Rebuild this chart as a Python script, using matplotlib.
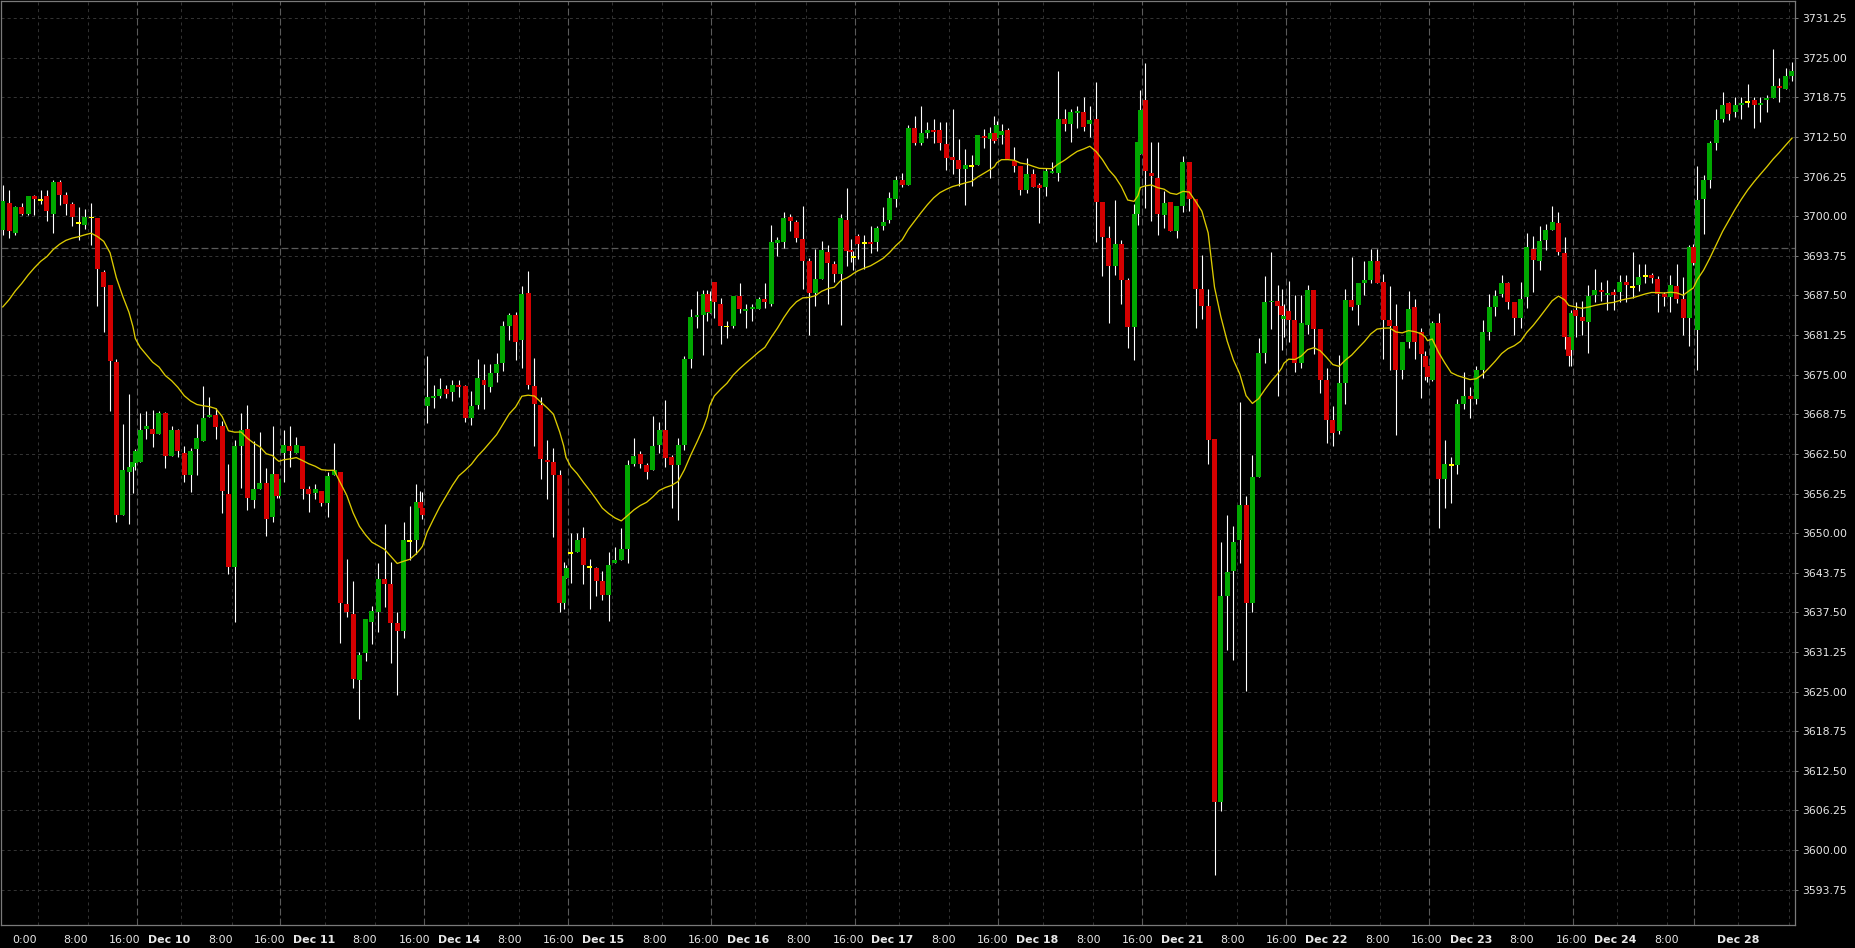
import matplotlib
matplotlib.use("Agg")
import matplotlib.pyplot as plt
import matplotlib.transforms as mtransforms
import numpy as np

plt.rcParams['lines.scale_dashes'] = False

# ---------------- data (hourly ES candles, CT session time) ----------------
day_names = ['Dec 9', 'Dec 10', 'Dec 11', 'Dec 14', 'Dec 15', 'Dec 16',
             'Dec 17', 'Dec 18', 'Dec 21', 'Dec 22', 'Dec 23']
half_day_name = 'Dec 24'
last_day_name = 'Dec 28'

opens = [
    3697.8, 3702.1, 3697.4, 3701.5, 3700.4, 3703.2,
    3702.6, 3703.2, 3700.4, 3705.4, 3703.4, 3702.0, 3698.9, 3698.7, 3699.8, 3699.7, 3691.2, 3689.2, 3677.0, 3652.8, 3659.7, 3660.5, 3661.0, 3661.3, 3666.5, 3666.4, 3665.7, 3669.0, 3662.1, 3666.3,
    3662.6, 3659.2, 3663.3, 3664.6, 3668.3, 3668.6, 3666.9, 3656.2, 3644.6, 3663.8, 3666.4, 3655.2, 3657.0, 3657.9, 3652.6, 3659.4, 3655.8, 3662.7, 3663.8, 3662.7, 3663.8, 3657.0, 3656.3, 3656.7,
    3654.8, 3659.1, 3659.7, 3638.8, 3637.2, 3626.9, 3631.1, 3636.0, 3637.6, 3642.8, 3642.0, 3635.8, 3634.6, 3648.8, 3648.9, 3654.9, 3653.9, 3670.0, 3671.4, 3671.7, 3672.7, 3672.3, 3673.4, 3673.2,
    3668.2, 3670.2, 3674.2, 3673.0, 3675.3, 3676.8, 3682.7, 3684.4, 3680.5, 3687.9, 3673.2, 3670.2, 3661.5, 3661.2, 3659.2, 3638.9, 3642.9, 3646.9, 3647.0, 3649.2, 3644.7, 3644.5, 3642.5, 3640.3,
    3645.3, 3645.8, 3647.5, 3660.9, 3662.5, 3660.8, 3660.0, 3663.9, 3666.3, 3662.0, 3660.8, 3663.9, 3677.5, 3684.1, 3684.4, 3687.7, 3684.8, 3689.6, 3686.2, 3682.6, 3682.7, 3687.4, 3685.0, 3685.4,
    3685.4, 3686.9, 3686.2, 3695.8, 3695.9, 3699.9, 3699.1, 3696.4, 3692.9, 3687.9, 3690.1, 3694.4, 3692.5, 3690.9, 3699.4, 3694.7, 3693.6, 3696.9, 3695.8, 3696.0, 3696.0, 3698.5, 3699.4, 3702.8,
    3705.7, 3704.9, 3713.9, 3711.6, 3713.2, 3713.6, 3713.6, 3711.4, 3709.4, 3708.9, 3707.5, 3707.9, 3708.1, 3712.7, 3712.2, 3713.1, 3712.4, 3712.9, 3713.6, 3708.7, 3707.9, 3704.2, 3706.7, 3704.9,
    3704.6, 3706.9, 3706.9, 3715.4, 3714.5, 3716.3, 3716.5, 3714.5, 3715.4, 3702.2, 3696.5, 3692.2, 3695.6, 3690.0, 3682.6, 3700.4, 3709.9, 3718.4, 3706.9, 3706.1, 3700.2, 3702.2, 3697.6, 3701.7,
    3708.5, 3702.7, 3688.6, 3685.9, 3664.8, 3607.6, 3640.1, 3644.0, 3648.9, 3654.4, 3639.0, 3658.8, 3678.5, 3686.4, 3686.6, 3685.9, 3683.8, 3685.0, 3683.6, 3676.9, 3682.9, 3688.4, 3682.2, 3674.2,
    3667.8, 3666.1, 3673.7, 3686.8, 3686.0, 3689.5, 3690.0, 3692.9, 3689.6, 3683.6, 3682.7, 3675.8, 3680.2, 3685.7, 3681.7, 3678.0, 3676.3, 3674.2, 3683.1, 3658.6, 3660.8, 3660.8, 3670.4, 3671.6,
    3671.2, 3675.7, 3681.7, 3685.7, 3687.8, 3689.5, 3686.5, 3684.0, 3687.2, 3694.8, 3692.9, 3696.2, 3697.9, 3698.9, 3694.2, 3681.0, 3678.9, 3685.2, 3684.1, 3683.3, 3687.5, 3688.3, 3687.6, 3688.0,
    3688.0, 3689.6, 3688.8, 3689.1, 3690.6, 3690.7, 3690.1, 3687.7, 3687.2, 3689.0, 3687.0, 3684.0, 3695.2, 3682.0, 3702.8, 3705.7, 3711.5, 3715.3, 3717.8, 3716.5,
    3717.6, 3718.1, 3718.3, 3717.6, 3718.3, 3718.7, 3720.6, 3720.1, 3722.2,
]
highs = [
    3704.9, 3704.1, 3701.6, 3702.1, 3703.2, 3703.4,
    3704.1, 3704.1, 3705.7, 3705.7, 3703.8, 3702.2, 3701.5, 3701.2, 3702.1, 3699.8, 3691.6, 3689.2, 3677.5, 3667.2, 3672.0, 3662.5, 3663.3, 3669.0, 3669.3, 3669.4, 3669.3, 3669.1, 3666.9, 3666.5,
    3663.8, 3663.5, 3667.2, 3673.2, 3671.5, 3669.7, 3667.7, 3660.9, 3664.7, 3669.0, 3670.2, 3664.5, 3666.0, 3660.3, 3666.9, 3659.4, 3658.6, 3666.3, 3666.9, 3665.2, 3663.8, 3657.5, 3657.8, 3656.7,
    3659.6, 3664.2, 3659.7, 3645.9, 3642.5, 3631.3, 3636.5, 3638.5, 3645.3, 3651.5, 3645.5, 3637.6, 3651.8, 3654.3, 3657.8, 3656.7, 3656.5, 3678.0, 3673.4, 3674.5, 3673.4, 3674.2, 3674.2, 3673.4,
    3672.4, 3677.5, 3676.7, 3676.7, 3678.4, 3683.5, 3684.8, 3684.9, 3689.0, 3691.4, 3677.6, 3671.5, 3664.7, 3663.4, 3660.0, 3645.5, 3645.0, 3650.0, 3650.0, 3651.0, 3645.9, 3644.7, 3644.0, 3647.0,
    3647.8, 3650.8, 3661.5, 3665.0, 3663.0, 3661.0, 3668.5, 3667.6, 3671.0, 3662.3, 3665.0, 3678.0, 3685.4, 3688.2, 3688.3, 3688.4, 3688.2, 3689.6, 3687.1, 3683.4, 3687.4, 3689.4, 3686.1, 3686.2,
    3687.3, 3689.5, 3698.6, 3696.7, 3700.6, 3700.4, 3699.4, 3701.6, 3693.4, 3694.8, 3696.1, 3695.5, 3692.9, 3700.4, 3704.5, 3696.4, 3694.6, 3697.2, 3697.0, 3698.5, 3698.5, 3701.5, 3703.8, 3706.3,
    3706.8, 3714.4, 3715.8, 3717.4, 3714.9, 3715.4, 3714.8, 3714.9, 3716.9, 3712.2, 3710.6, 3709.7, 3712.8, 3713.7, 3714.1, 3715.8, 3715.1, 3714.6, 3713.9, 3710.9, 3707.9, 3709.2, 3707.5, 3705.2,
    3707.6, 3708.6, 3722.9, 3716.9, 3716.9, 3717.4, 3718.8, 3717.4, 3721.2, 3702.2, 3698.5, 3702.5, 3696.2, 3690.2, 3702.0, 3712.2, 3720.0, 3724.2, 3711.7, 3711.7, 3704.0, 3702.2, 3701.7, 3709.5,
    3708.5, 3702.7, 3693.9, 3688.6, 3664.8, 3648.6, 3652.8, 3651.1, 3670.7, 3655.8, 3662.3, 3680.8, 3690.6, 3694.3, 3689.1, 3688.6, 3686.1, 3689.8, 3687.5, 3687.5, 3689.1, 3688.4, 3682.2, 3676.0,
    3670.1, 3678.1, 3688.6, 3693.5, 3689.4, 3692.9, 3694.8, 3694.8, 3690.9, 3689.0, 3686.2, 3680.2, 3688.2, 3687.0, 3682.4, 3678.8, 3676.3, 3683.5, 3684.8, 3664.7, 3662.0, 3671.2, 3675.4, 3673.1,
    3676.3, 3683.6, 3687.7, 3688.4, 3690.7, 3689.7, 3686.5, 3689.6, 3697.4, 3696.9, 3698.5, 3698.8, 3701.6, 3700.6, 3696.7, 3681.5, 3685.2, 3686.5, 3686.6, 3689.1, 3691.7, 3689.6, 3690.0, 3688.6,
    3690.8, 3690.7, 3694.3, 3692.5, 3692.5, 3691.0, 3690.6, 3688.1, 3690.7, 3692.5, 3690.4, 3695.5, 3695.7, 3707.9, 3706.5, 3711.9, 3716.9, 3719.6, 3718.1, 3718.8,
    3718.8, 3720.8, 3718.8, 3718.8, 3719.1, 3726.4, 3721.8, 3723.4, 3724.3,
]
lows = [
    3697.0, 3696.6, 3697.0, 3700.2, 3700.2, 3700.2,
    3702.0, 3699.3, 3697.3, 3701.8, 3700.2, 3698.5, 3696.3, 3698.0, 3695.5, 3685.9, 3681.8, 3669.3, 3651.7, 3652.8, 3651.4, 3656.4, 3659.9, 3661.3, 3664.9, 3663.6, 3665.7, 3660.2, 3662.1, 3662.0,
    3658.1, 3656.5, 3659.1, 3664.6, 3668.3, 3664.9, 3653.1, 3643.6, 3635.9, 3657.2, 3653.7, 3653.9, 3657.0, 3649.5, 3651.7, 3655.5, 3655.5, 3658.1, 3660.4, 3662.7, 3655.4, 3653.4, 3655.4, 3654.3,
    3652.5, 3659.1, 3632.7, 3636.7, 3625.6, 3620.7, 3629.9, 3632.5, 3634.4, 3638.4, 3629.5, 3624.4, 3633.4, 3645.8, 3646.7, 3654.0, 3652.2, 3667.4, 3669.8, 3671.4, 3671.4, 3670.9, 3671.5, 3667.5,
    3667.1, 3669.6, 3669.6, 3672.3, 3673.9, 3675.6, 3680.4, 3677.3, 3676.1, 3672.8, 3663.7, 3658.6, 3655.4, 3649.4, 3637.5, 3638.1, 3642.9, 3642.2, 3647.0, 3641.9, 3638.0, 3640.1, 3639.5, 3636.2,
    3645.3, 3645.8, 3645.3, 3660.6, 3660.2, 3658.6, 3660.0, 3662.6, 3660.4, 3653.9, 3652.1, 3663.1, 3676.1, 3682.3, 3678.1, 3683.5, 3684.8, 3684.0, 3679.9, 3680.8, 3682.3, 3684.7, 3682.3, 3683.4,
    3685.4, 3685.6, 3685.9, 3693.7, 3695.0, 3697.7, 3695.9, 3688.5, 3681.2, 3685.9, 3690.1, 3686.1, 3689.7, 3682.9, 3692.1, 3692.8, 3691.5, 3693.3, 3691.7, 3694.2, 3694.6, 3697.8, 3699.0, 3701.4,
    3704.6, 3704.9, 3711.3, 3711.3, 3712.3, 3711.5, 3710.4, 3707.3, 3706.7, 3704.8, 3701.8, 3704.7, 3708.1, 3710.8, 3706.1, 3711.5, 3712.4, 3711.4, 3709.0, 3707.0, 3703.3, 3703.7, 3704.6, 3699.0,
    3703.2, 3706.9, 3705.6, 3713.5, 3711.7, 3713.9, 3713.5, 3712.5, 3696.0, 3690.6, 3683.1, 3690.7, 3686.1, 3679.2, 3677.3, 3698.7, 3709.9, 3701.3, 3699.2, 3697.0, 3698.1, 3697.6, 3696.5, 3700.7,
    3700.8, 3682.3, 3683.8, 3660.9, 3596.0, 3606.1, 3631.6, 3630.0, 3645.3, 3625.1, 3637.5, 3658.8, 3676.8, 3682.2, 3671.7, 3678.9, 3681.0, 3680.2, 3675.4, 3676.0, 3681.4, 3678.3, 3672.1, 3664.3,
    3663.8, 3665.6, 3670.3, 3685.2, 3682.9, 3687.6, 3689.4, 3689.5, 3677.5, 3675.7, 3665.5, 3674.3, 3679.2, 3677.5, 3671.3, 3674.2, 3673.9, 3674.0, 3650.8, 3653.9, 3654.8, 3659.4, 3669.6, 3668.1,
    3670.3, 3674.5, 3680.5, 3684.3, 3687.3, 3685.3, 3681.3, 3682.3, 3685.6, 3688.1, 3691.5, 3694.7, 3697.9, 3693.9, 3679.1, 3676.3, 3676.3, 3680.9, 3681.3, 3678.4, 3686.5, 3686.6, 3685.2, 3685.2,
    3686.5, 3686.5, 3687.1, 3688.2, 3689.5, 3689.5, 3684.9, 3685.9, 3684.9, 3686.3, 3681.3, 3679.6, 3692.3, 3675.8, 3697.2, 3704.4, 3710.4, 3714.8, 3715.2, 3715.6,
    3715.3, 3717.3, 3714.0, 3714.8, 3716.5, 3718.6, 3718.1, 3720.1, 3721.3,
]
closes = [
    3702.4, 3697.7, 3701.5, 3700.4, 3703.2, 3702.8,
    3702.6, 3700.9, 3705.4, 3703.4, 3702.0, 3699.9, 3698.9, 3699.9, 3699.8, 3691.7, 3688.8, 3677.1, 3652.8, 3660.0, 3660.4, 3661.2, 3663.0, 3666.3, 3666.9, 3665.7, 3669.0, 3662.1, 3666.3, 3663.0,
    3659.2, 3663.0, 3665.0, 3668.2, 3668.6, 3666.8, 3656.7, 3644.6, 3663.8, 3666.3, 3655.6, 3656.9, 3657.9, 3652.3, 3659.4, 3655.8, 3658.6, 3663.9, 3663.0, 3663.9, 3657.0, 3656.1, 3656.9, 3654.8,
    3659.0, 3660.0, 3638.9, 3637.6, 3627.0, 3630.8, 3636.5, 3637.7, 3642.8, 3642.0, 3635.8, 3634.6, 3648.9, 3648.8, 3654.9, 3654.0, 3652.8, 3671.5, 3671.6, 3672.8, 3672.0, 3673.4, 3673.1, 3668.2,
    3670.0, 3674.5, 3673.3, 3675.3, 3676.7, 3682.7, 3684.4, 3680.2, 3687.8, 3673.3, 3670.3, 3661.7, 3661.2, 3659.2, 3639.0, 3643.2, 3644.5, 3646.9, 3648.9, 3644.9, 3644.7, 3642.5, 3640.2, 3645.0,
    3645.8, 3647.5, 3660.8, 3662.1, 3660.9, 3659.7, 3663.8, 3666.3, 3661.8, 3660.8, 3663.9, 3677.5, 3684.1, 3684.4, 3687.7, 3684.9, 3686.6, 3686.5, 3682.7, 3682.6, 3687.4, 3685.3, 3685.3, 3685.7,
    3686.9, 3686.5, 3695.9, 3696.2, 3699.7, 3699.2, 3696.5, 3693.0, 3687.9, 3690.1, 3694.7, 3692.6, 3690.9, 3699.7, 3694.5, 3694.3, 3693.6, 3695.7, 3695.8, 3695.7, 3698.2, 3699.1, 3702.9, 3705.7,
    3705.0, 3713.9, 3711.6, 3713.1, 3713.6, 3713.3, 3711.6, 3709.2, 3708.9, 3707.5, 3708.1, 3707.9, 3712.8, 3712.4, 3713.1, 3711.9, 3714.4, 3713.5, 3709.0, 3707.9, 3704.2, 3706.7, 3704.6, 3704.5,
    3707.2, 3707.2, 3715.4, 3714.5, 3716.5, 3716.6, 3714.1, 3715.2, 3702.2, 3696.8, 3692.2, 3695.6, 3690.0, 3682.5, 3700.4, 3711.8, 3716.7, 3707.2, 3706.4, 3700.4, 3702.1, 3697.6, 3701.7, 3708.5,
    3702.7, 3688.6, 3685.9, 3664.7, 3607.6, 3640.1, 3643.9, 3648.6, 3654.4, 3639.0, 3658.8, 3678.5, 3686.4, 3686.6, 3685.9, 3684.4, 3684.3, 3683.6, 3676.9, 3683.2, 3688.4, 3682.2, 3674.2, 3667.8,
    3665.8, 3673.7, 3686.8, 3685.7, 3689.4, 3690.0, 3692.9, 3689.5, 3683.7, 3682.7, 3675.8, 3680.2, 3685.4, 3680.2, 3678.3, 3676.2, 3674.7, 3683.2, 3658.6, 3660.9, 3660.8, 3670.4, 3671.6, 3671.2,
    3675.7, 3681.7, 3685.7, 3687.4, 3689.5, 3686.5, 3684.0, 3687.0, 3695.1, 3693.1, 3696.1, 3697.8, 3699.1, 3694.4, 3681.0, 3678.0, 3684.8, 3684.2, 3683.5, 3687.4, 3688.4, 3688.0, 3687.9, 3687.6,
    3689.6, 3689.2, 3688.8, 3690.4, 3690.6, 3690.2, 3687.8, 3687.2, 3689.2, 3687.0, 3684.0, 3695.2, 3692.7, 3702.5, 3705.7, 3711.6, 3715.2, 3717.6, 3716.2, 3717.6,
    3717.9, 3718.1, 3717.6, 3717.9, 3718.7, 3720.6, 3720.2, 3722.1, 3722.9,
]
ma_start = 3685.7      # moving average value at the first bar
ma_period = 20         # exponential moving average length
ref_level = 3695.0     # horizontal dashed reference line
y_ticks = [3593.75 + 6.25 * k for k in range(23)]

# ---------------- session time axis (trading hours only) ----------------
DAY = 22.75  # trading hours per session day on the compressed axis


def day_bar_centres(T):
    c = [T + h + 0.5 for h in range(15)]          # 0:00 .. 14:00
    c += [T + 15.125, T + 15.5]                    # 15:00-15:15 and 15:30-16:00
    c += [T + 15.75 + k + 0.5 for k in range(7)]  # 17:00 .. 23:00
    return c


xs = [-6 + k + 0.5 for k in range(6)]             # previous evening 18:00..23:00
for d in range(len(day_names)):
    xs += day_bar_centres(d * DAY)
T24 = len(day_names) * DAY
xs += [T24 + h + 0.5 for h in range(12)] + [T24 + 12.125]
xs += [T24 + 12.25 + k + 0.5 for k in range(7)]
T28 = T24 + 19.25
xs += [T28 + h + 0.5 for h in range(9)]

x = np.array(xs)
O = np.array(opens); Hh = np.array(highs); L = np.array(lows); C = np.array(closes)
assert len(x) == len(O) == len(Hh) == len(L) == len(C), (len(x), len(O), len(Hh), len(L), len(C))

ma = [ma_start]
alpha = 2.0 / (ma_period + 1)
for c in C[1:]:
    ma.append(ma[-1] + alpha * (c - ma[-1]))

# ---------------- figure ----------------
W, Hpx = 1855, 948
PXH = 6.311        # pixels per trading hour
X0 = 37.5          # pixel of Dec 9 0:00
PXV = 6.337        # pixels per index point
fig = plt.figure(figsize=(W / 100, Hpx / 100), dpi=100, facecolor='black')
left_px, right_px, top_px, bot_px = 0.5, 1795.0, 0.5, 925.0
ax = fig.add_axes([left_px / W, 1 - bot_px / Hpx, (right_px - left_px) / W, (bot_px - top_px) / Hpx])
ax.set_facecolor('black')
ax.set_xlim((left_px - X0) / PXH, (right_px - X0) / PXH)


def val_at(ypx):
    return 3731.25 - (ypx - 18.25) / PXV


ax.set_ylim(val_at(bot_px), val_at(top_px))

GRID_MINOR = '#333333'
GRID_MAJOR = '#5a5a5a'
for v in y_ticks:
    ax.axhline(v, color=GRID_MINOR, lw=0.75, linestyle=(0, (2.2, 2.2)), zorder=1)
ax.axhline(ref_level, color=GRID_MAJOR, lw=0.9, linestyle=(0, (5.0, 2.2)), zorder=1)

# vertical grid lines + labels
lines = []  # (t, label, bold, major)
for d, name in enumerate(day_names):
    T = d * DAY
    lines.append((T, '0:00' if d == 0 else name, d != 0, False))
    lines.append((T + 8, '8:00', False, False))
    lines.append((T + 15.75, '16:00', False, True))
lines.append((T24, half_day_name, True, False))
lines.append((T24 + 8, '8:00', False, False))
lines.append((T24 + 12.25, None, False, True))
lines.append((T28, last_day_name, True, False))
lines.append((T28 + 8, None, False, False))

trans = mtransforms.blended_transform_factory(ax.transData, ax.transAxes)
label_y = (bot_px - 940.0) / (bot_px - top_px)
for t, lab, bold, major in lines:
    if major:
        ax.axvline(t, color=GRID_MAJOR, lw=0.8, linestyle=(0, (5.0, 2.2)), zorder=1)
    else:
        ax.axvline(t, color=GRID_MINOR, lw=0.7, linestyle=(0, (2.2, 2.6)), zorder=1)
    if lab:
        lpx = X0 + PXH * t
        off = 12.8 - 0.0072 * lpx
        ax.text(t - off / PXH, label_y, lab, transform=trans, ha='center', va='center',
                fontsize=7.9, color='#e8e8e8', fontweight='bold' if bold else 'normal',
                clip_on=False)

# candles
GREEN = '#00a800'
RED = '#d40000'
ax.vlines(x, L, Hh, colors='white', lw=0.8, zorder=3)
up = C > O
dn = C < O
dj = C == O
bw = 0.79
ax.bar(x[up], np.maximum(C[up] - O[up], 0.16), bw, bottom=O[up], color=GREEN, lw=0, zorder=4)
ax.bar(x[dn], np.maximum(O[dn] - C[dn], 0.16), bw, bottom=C[dn], color=RED, lw=0, zorder=4)
ax.bar(x[dj], 0.3, bw, bottom=O[dj] - 0.15, color='#ffff00', lw=0, zorder=4)

ax.plot(x, ma, color='#dccb00', lw=0.95, zorder=5)

# axes styling
for s in ax.spines.values():
    s.set_color('#7a7a7a')
    s.set_linewidth(0.9)
ax.set_xticks([])
ax.yaxis.tick_right()
ax.set_yticks(y_ticks)
ax.set_yticklabels(['%.2f' % v for v in y_ticks])
ax.tick_params(axis='y', colors='#7a7a7a', length=2.3, width=0.7, pad=2.6,
               labelsize=7.8, labelcolor='#e8e8e8')

fig.savefig('out.png', dpi=100, facecolor='black')
